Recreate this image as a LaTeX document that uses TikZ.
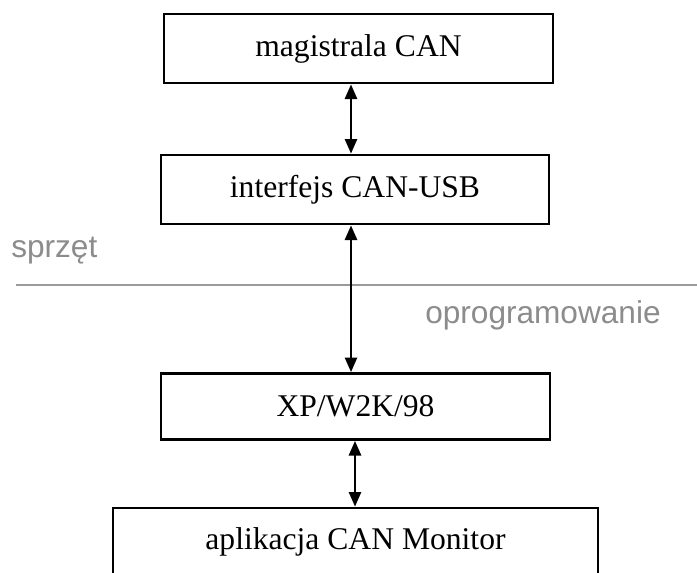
\documentclass[tikz,border=0pt]{standalone}
\usepackage{fontspec}
\setmainfont{Liberation Serif}
\newfontfamily\labelsans{Liberation Sans}
\usetikzlibrary{arrows.meta,calc}
\definecolor{layergray}{RGB}{140,140,140}
\definecolor{rulegray}{RGB}{155,155,155}
\tikzset{
  block/.style={draw=black, line width=2pt, fill=white, inner sep=0pt,
    font=\fontsize{23.7}{28}\selectfont},
  link/.style={line width=2pt, {Triangle[length=11pt,width=9pt]}-{Triangle[length=11pt,width=9pt]}},
  layer/.style={text=layergray, inner sep=0pt, font=\labelsans\fontsize{23.7}{28}\selectfont},
}
\begin{document}
\begin{tikzpicture}[x=0.75pt,y=-0.75pt]
  \useasboundingbox (0,0) rectangle (697,572);
  \clip (0,0) rectangle (697,572);
  \fill[white] (0,0) rectangle (697,572);

  % hardware / software boundary
  \coordinate (ruleL) at (16,284.5);
  \coordinate (ruleR) at (697,284.5);
  \draw[rulegray, line width=1.5pt] (ruleL) -- (ruleR);
  \node[layer, anchor=base west] (hw) at (11,257) {sprzęt};
  \node[layer, anchor=base west] (sw) at (425,323) {oprogramowanie};

  % blocks
  \node[block, minimum width=389*0.75pt, minimum height=69*0.75pt] (bus) at (358.5,48.5) {magistrala CAN};
  \node[block, minimum width=388*0.75pt, minimum height=69*0.75pt] (usb) at (355,189.5) {interfejs CAN-USB};
  \node[block, minimum width=389*0.75pt, minimum height=66*0.75pt] (os) at (355.5,406.5) {XP/W2K/98};
  \node[block, minimum width=485*0.75pt, minimum height=68*0.75pt] (app) at (355.5,542) {aplikacja CAN Monitor};

  % connector columns
  \coordinate (colA) at (351,0);
  \coordinate (colB) at (355,0);
  \draw[link] (colA |- bus.south) -- (colA |- usb.north);
  \draw[link] (colA |- usb.south) -- (colA |- os.north);
  \draw[link] (colB |- os.south) -- (colB |- app.north);
\end{tikzpicture}
\end{document}
